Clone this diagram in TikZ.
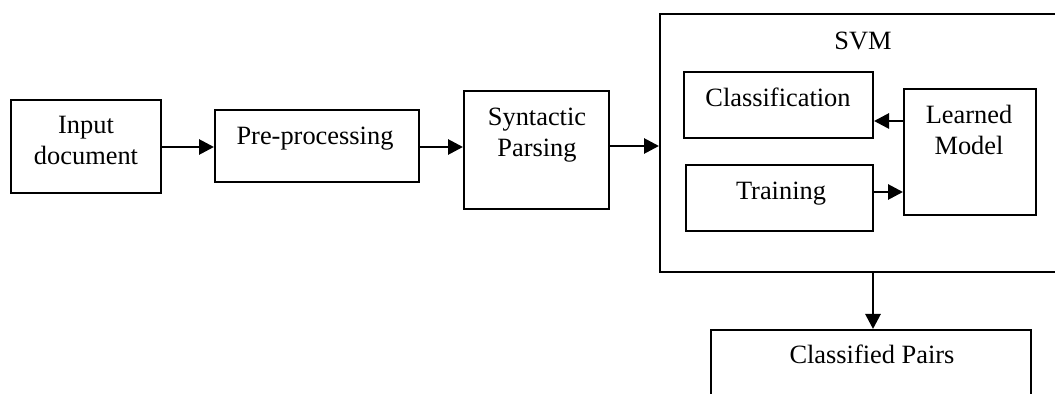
\documentclass[tikz,border=0pt]{standalone}
\usepackage{fontspec}
\setmainfont{Liberation Serif}
\usetikzlibrary{arrows.meta}
\begin{document}
\begin{tikzpicture}[x=0.5pt,y=-0.5pt,
  box/.style={draw,line width=1pt,inner sep=0pt,rectangle},
  txt/.style={inner sep=0pt,anchor=base,align=center,
    font=\fontsize{13.2pt}{15.5pt}\selectfont},
  arr/.style={line width=1.4pt,-{Triangle[length=7.5pt,width=7.5pt]}}]
\useasboundingbox (0,0) rectangle (1055,394);
\clip (0,0) rectangle (1055,394);
% boxes
\node[box,minimum width=75pt,minimum height=46.5pt] (inp) at (86,146.5) {};
\node[box,minimum width=102pt,minimum height=36pt] (pre) at (317,146) {};
\node[box,minimum width=72.5pt,minimum height=59pt] (syn) at (536.5,150) {};
\node[box,minimum width=205pt,minimum height=129pt] (svm) at (865,143) {};
\node[box,minimum width=94.5pt,minimum height=33pt] (cls) at (778.5,105) {};
\node[box,minimum width=93.5pt,minimum height=33pt] (trn) at (779.5,198) {};
\node[box,minimum width=66pt,minimum height=63pt] (lrn) at (970,152) {};
\node[box,minimum width=160pt,minimum height=45pt] (out) at (871,375) {};
% labels (base anchor = baseline of the last line)
\node[txt] (inp-t) at (86,165) {Input\\document};
\node[txt] (pre-t) at (315,145) {Pre-processing};
\node[txt] (syn-t) at (537,157) {Syntactic\\Parsing};
\node[txt] (svm-t) at (863,50) {SVM};
\node[txt] (cls-t) at (778,107) {Classification};
\node[txt] (trn-t) at (781,200) {Training};
\node[txt] (lrn-t) at (969,155) {Learned\\Model};
\node[txt] (out-t) at (872,364) {Classified Pairs};
% connectors
\draw[arr] (inp.east |- 0,147) -- (pre.west |- 0,147);
\draw[arr] (pre.east |- 0,147) -- (syn.west |- 0,147);
\draw[arr] (syn.east |- 0,146) -- (svm.west |- 0,146);
\draw[arr] (lrn.west |- 0,121) -- (cls.east |- 0,121);
\draw[arr] (trn.east |- 0,192) -- (lrn.west |- 0,192);
\draw[arr] (svm.south -| 873,0) -- (out.north -| 873,0);
\end{tikzpicture}
\end{document}
